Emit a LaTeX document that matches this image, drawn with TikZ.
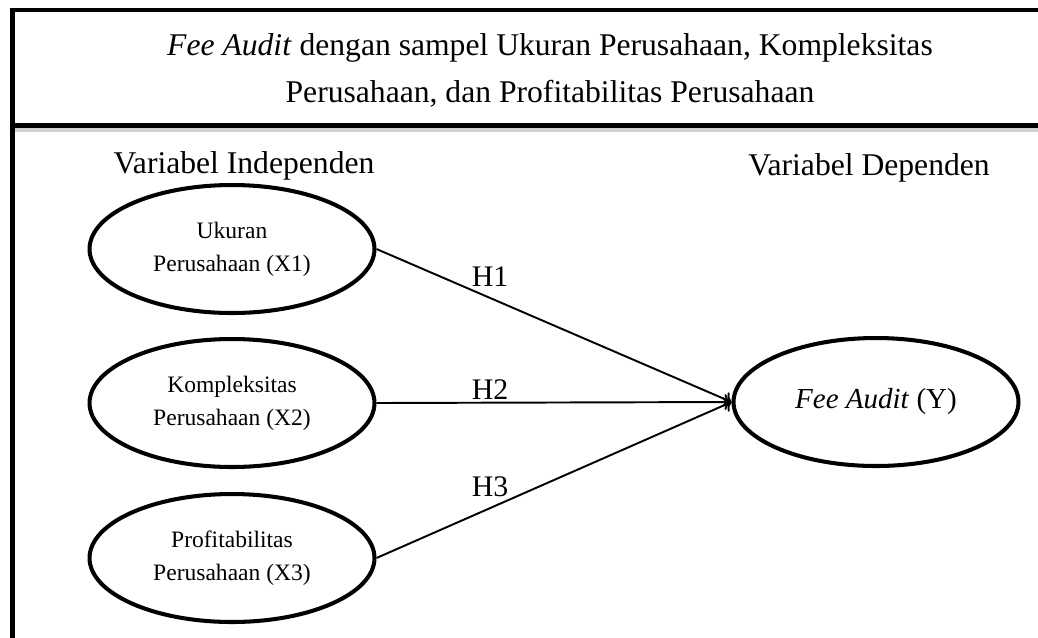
\documentclass[tikz,border=0pt]{standalone}
\usepackage{fontspec}
\setmainfont{Liberation Serif}
\usetikzlibrary{shapes.geometric, arrows.meta}
\newcommand{\besar}{\fontsize{18}{26.7}\selectfont}
\newcommand{\kecil}{\fontsize{13.4}{18.8}\selectfont}
\tikzset{
  oval/.style = {draw, ellipse, line width=2.3pt, minimum width=5.7cm,
    minimum height=2.56cm, align=center, inner sep=0pt, font=\kecil},
  panah/.style = {-{To[length=4pt, width=9pt]}, line width=1.1pt},
  hipotesis/.style = {pos=0.32, inner sep=1pt, font=\fontsize{17}{20}\selectfont}
}
\begin{document}
\begin{tikzpicture}[x = 0.02cm, y = -0.02cm]
  \useasboundingbox (0,0) rectangle (1038,637);
  \draw [black!18, line width=0.08cm] (15,130) -- (1040,130);
  \draw [line width=0.09cm] (1040,10) -- (12.5,10) -- (12.5,640);
  \draw [line width=0.1cm] (12.5,125.5) -- (1040,125.5);
  \node [align=center, font=\besar] (judul) at (550,70)
    {\textit{Fee Audit} dengan sampel Ukuran Perusahaan, Kompleksitas\\
     Perusahaan, dan Profitabilitas Perusahaan};
  \node [font=\besar, anchor=base] (indep) at (244,173) {Variabel Independen};
  \node [font=\besar, anchor=base] (dep) at (869,175) {Variabel Dependen};
  \node [oval] (x1) at (232,249) {Ukuran\\ Perusahaan (X1)};
  \node [oval] (x2) at (232,403) {Kompleksitas\\ Perusahaan (X2)};
  \node [oval] (x3) at (232,558) {Profitabilitas\\ Perusahaan (X3)};
  \node [oval, font=\fontsize{16.5}{20}\selectfont] (y) at (876,402) {\textit{Fee Audit} (Y)};
  \draw [panah] (x1.east) -- (y.west) node [hipotesis, above=5pt] {H1};
  \draw [panah] (x2.east) -- (y.west) node [hipotesis, above=0pt] {H2};
  \draw [panah] (x3.east) -- (y.west) node [hipotesis, above=5pt] {H3};
\end{tikzpicture}
\end{document}
